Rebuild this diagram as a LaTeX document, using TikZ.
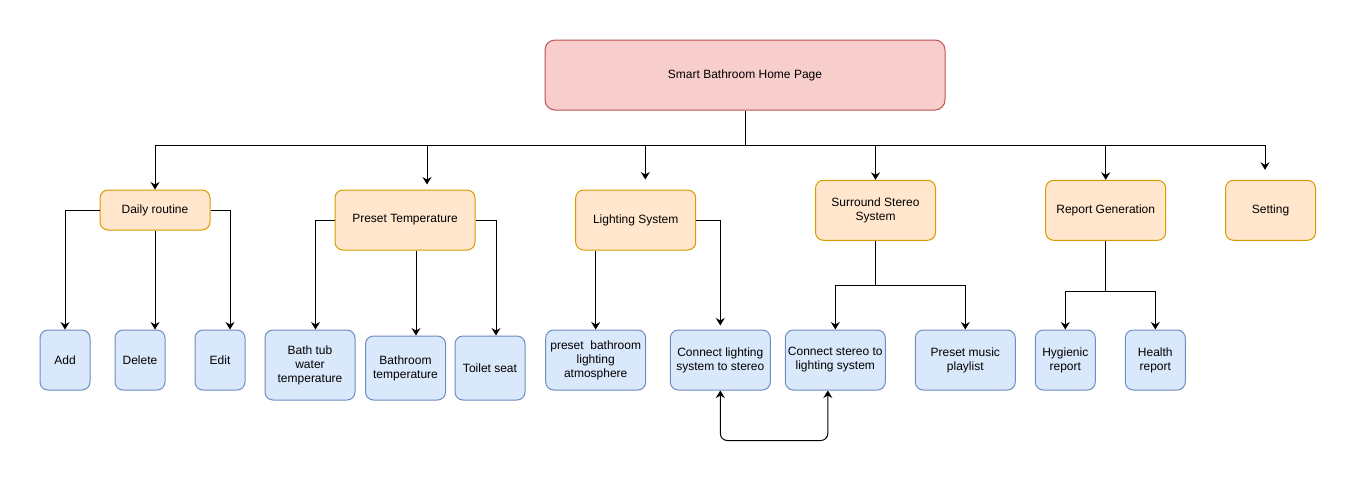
\documentclass[tikz,border=0pt]{standalone}
\usepackage{fontspec}
\setmainfont{Liberation Sans}
\usetikzlibrary{arrows.meta,calc}
\definecolor{redfill}{HTML}{F8CECC}
\definecolor{redline}{HTML}{B85450}
\definecolor{orfill}{HTML}{FFE6CC}
\definecolor{orline}{HTML}{D79B00}
\definecolor{blfill}{HTML}{DAE8FC}
\definecolor{blline}{HTML}{6C8EBF}
\tikzset{
  box/.style={rectangle, rounded corners=8pt, line width=1pt, align=center,
    font=\fontsize{12}{14}\selectfont, inner sep=0pt, text=black},
  redbox/.style={box, fill=redfill, draw=redline, rounded corners=10pt},
  orbox/.style={box, fill=orfill, draw=orline},
  blbox/.style={box, fill=blfill, draw=blline},
  conn/.style={line width=1pt, draw=black},
  tipa/.tip={Stealth[length=7.5pt,width=9pt,inset=2.5pt]},
  arr/.style={conn, -tipa},
  arrboth/.style={conn, tipa-tipa}
}
\begin{document}
\begin{tikzpicture}[x=1pt,y=-1pt]
\useasboundingbox (0,0) rectangle (1356,491);
% top
\node[redbox, minimum width=400pt, minimum height=70pt] (top) at (745,75) {Smart Bathroom Home Page};
% level 1
\node[orbox, minimum width=110pt, minimum height=40pt] (dr) at (155,210) {Daily routine};
\node[orbox, minimum width=140pt, minimum height=60pt] (pt) at (405,220) {Preset Temperature};
\node[orbox, minimum width=120pt, minimum height=60pt] (ls) at (635.7,220) {Lighting System};
\node[orbox, minimum width=120pt, minimum height=60pt] (sss) at (875.5,210.3) {Surround Stereo\\System};
\node[orbox, minimum width=120pt, minimum height=60pt] (rg) at (1105.7,210.3) {Report Generation};
\node[orbox, minimum width=90pt, minimum height=60pt] (set) at (1270.5,210.3) {Setting};
% level 2
\node[blbox, minimum width=50pt, minimum height=60pt] (add) at (65,360) {Add};
\node[blbox, minimum width=50pt, minimum height=60pt] (del) at (140,360) {Delete};
\node[blbox, minimum width=50pt, minimum height=60pt] (edit) at (220,360) {Edit};
\node[blbox, minimum width=90pt, minimum height=70pt] (bt) at (310,365) {Bath tub\\water\\temperature};
\node[blbox, minimum width=80pt, minimum height=64pt] (bat) at (405.5,368) {Bathroom\\temperature};
\node[blbox, minimum width=70pt, minimum height=64pt] (ts) at (490,368) {Toilet seat};
\node[blbox, minimum width=100pt, minimum height=60pt] (pba) at (595.7,360) {preset\ \ bathroom\\lighting\\atmosphere};
\node[blbox, minimum width=100pt, minimum height=60pt] (cls) at (720.3,360) {Connect lighting\\system to stereo};
\node[blbox, minimum width=100pt, minimum height=60pt] (cs) at (835.3,360) {Connect stereo to\\lighting system};
\node[blbox, minimum width=100pt, minimum height=60pt] (pmp) at (965.3,360) {Preset music\\playlist};
\node[blbox, minimum width=60pt, minimum height=60pt] (hyg) at (1065.3,360) {Hygienic\\report};
\node[blbox, minimum width=60pt, minimum height=60pt] (hea) at (1155.3,360) {Health\\report};
% trunk
\coordinate (j) at ($(top.south)+(0,35)$);
\draw[conn] (top.south) -- (j);
\draw[arr] (j) -| (dr.north);
\draw[arr, shorten >=5pt] (j) -| ([xshift=22pt]pt.north);
\draw[arr, shorten >=10pt] (j) -| ([xshift=9.6pt]ls.north);
\draw[arr] (j) -| (sss.north);
\draw[arr] (j) -| (rg.north);
\draw[arr, shorten >=10pt] (j) -| ([xshift=-5.5pt]set.north);
% daily routine
\draw[arr] (dr.west) -| (add.north);
\draw[arr] (dr.south) -- (dr.south |- del.north);
\draw[arr] (dr.east) -| ([xshift=10pt]edit.north);
% preset temperature
\draw[arr] (pt.west) -| ([xshift=5.5pt]bt.north);
\draw[arr] ([xshift=11pt]pt.south) -- ([xshift=11pt]pt.south |- bat.north);
\draw[arr] (pt.east) -| ([xshift=6pt]ts.north);
% lighting
\draw[arr] (pba.north |- ls.south) -- (pba.north);
\draw[arr, shorten >=4pt] (ls.east) -| (cls.north);
% stereo
\coordinate (sj) at ($(sss.south)+(0,45)$);
\draw[conn] (sss.south) -- (sj);
\draw[arr] (sj) -| (cs.north);
\draw[arr] (sj) -| (pmp.north);
% report
\coordinate (rj) at ($(rg.south)+(0,51)$);
\draw[conn] (rg.south) -- (rj);
\draw[arr] (rj) -| (hyg.north);
\draw[arr] (rj) -| (hea.north);
% bidirectional
\draw[arrboth, rounded corners=7pt] (cls.south) -- ++(0,50) -| ([xshift=-7.5pt]cs.south);
\end{tikzpicture}
\end{document}
